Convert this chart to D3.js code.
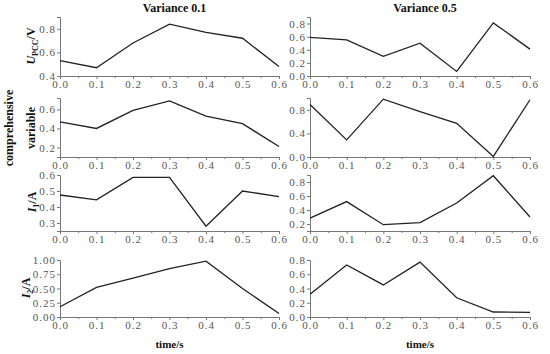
<!DOCTYPE html>
<html><head><meta charset="utf-8">
<script src="https://cdn.jsdelivr.net/npm/d3@7"></script>
<style>
body{margin:0;background:#fff;}
svg text{font-family:"Liberation Serif","DejaVu Serif",serif;}
.domain,.tick line{stroke:#777;}
</style></head>
<body><svg id="c" width="550" height="354"></svg>
<script>
const times = [0, 0.1, 0.2, 0.3, 0.4, 0.5, 0.6];
const xTicks = [0, 0.1, 0.2, 0.3, 0.4, 0.5, 0.6];
const columnTitles = ["Variance 0.1", "Variance 0.5"];
const upccVar01 = [0.53, 0.47, 0.68, 0.84, 0.77, 0.72, 0.48];
const upccVar05 = [0.59, 0.55, 0.30, 0.50, 0.07, 0.81, 0.41];
const compVar01 = [0.47, 0.40, 0.59, 0.69, 0.53, 0.45, 0.21];
const compVar05 = [0.89, 0.29, 0.98, 0.77, 0.57, 0.01, 0.97];
const i1Var01 = [0.475, 0.445, 0.585, 0.585, 0.28, 0.50, 0.465];
const i1Var05 = [0.285, 0.52, 0.19, 0.22, 0.50, 0.89, 0.30];
const i2Var01 = [0.18, 0.52, 0.68, 0.85, 0.98, 0.50, 0.06];
const i2Var05 = [0.32, 0.73, 0.45, 0.77, 0.27, 0.07, 0.065];
const yTicksUpcc01 = [0.4, 0.6, 0.8];
const yTicksUpcc05 = [0, 0.2, 0.4, 0.6, 0.8];
const yTicksComp01 = [0.2, 0.4, 0.6];
const yTicksComp05 = [0, 0.4, 0.8];
const yTicksI101 = [0.3, 0.4, 0.5, 0.6];
const yTicksI105 = [0.2, 0.4, 0.6, 0.8];
const yTicksI201 = [0, 0.25, 0.5, 0.75, 1];
const yTicksI205 = [0, 0.2, 0.4, 0.6, 0.8];

const svg = d3.select("#c");
const cols = [{x0:60,x1:279},{x0:310,x1:530}];
const rows = [{t:17,b:76},{t:98,b:157},{t:175,b:231},{t:260,b:317}];

const panels = [
 {r:0,c:0,vals:upccVar01,dom:[0.4,0.9],ticks:yTicksUpcc01,fmt:".1f"},
 {r:0,c:1,vals:upccVar05,dom:[0,0.9],ticks:yTicksUpcc05,fmt:".1f"},
 {r:1,c:0,vals:compVar01,dom:[0.1,0.72],ticks:yTicksComp01,fmt:".1f"},
 {r:1,c:1,vals:compVar05,dom:[0,1],ticks:yTicksComp05,fmt:".1f"},
 {r:2,c:0,vals:i1Var01,dom:[0.25,0.6],ticks:yTicksI101,fmt:".1f"},
 {r:2,c:1,vals:i1Var05,dom:[0.1,0.9],ticks:yTicksI105,fmt:".1f"},
 {r:3,c:0,vals:i2Var01,dom:[0,1],ticks:yTicksI201,fmt:".2f"},
 {r:3,c:1,vals:i2Var05,dom:[0,0.8],ticks:yTicksI205,fmt:".1f"}
];

function styleTicks(s){
  s.attr("font-family",null).attr("font-size",null);
  s.selectAll(".tick text")
    .attr("font-family","'Liberation Serif','DejaVu Serif',serif")
    .attr("font-size",11).attr("fill","#555").attr("letter-spacing",1);
}

panels.forEach(p=>{
  const col=cols[p.c], row=rows[p.r];
  const x=d3.scaleLinear().domain([0,0.6]).range([col.x0,col.x1]);
  const y=d3.scaleLinear().domain(p.dom).range([row.b,row.t]);
  const g=svg.append("g");
  g.append("g").attr("transform",`translate(0,${row.b})`)
    .call(d3.axisBottom(x).tickValues(d3.range(0.05,0.6,0.1)).tickSize(2).tickFormat(""))
    .call(s=>s.select(".domain").remove());
  g.append("g").attr("transform",`translate(0,${row.b})`)
    .call(d3.axisBottom(x).tickValues(xTicks).tickSize(3).tickPadding(1).tickFormat(d3.format(".1f")))
    .call(styleTicks);
  g.append("g").attr("transform",`translate(${col.x0},0)`)
    .call(d3.axisLeft(y).tickValues(p.ticks).tickSize(3).tickPadding(1).tickFormat(d3.format(p.fmt)))
    .call(styleTicks);
  g.append("path").datum(p.vals)
    .attr("fill","none").attr("stroke","#222").attr("stroke-width",1.3)
    .attr("d",d3.line().x((d,i)=>x(times[i])).y(d=>y(d)));
});

columnTitles.forEach((t,i)=>{
  const cx=(cols[i].x0+cols[i].x1)/2;
  svg.append("text").attr("x",cx+5).attr("y",12).attr("text-anchor","middle")
    .attr("font-size",12).attr("font-weight","bold").attr("fill","#111").text(t);
  svg.append("text").attr("x",cx).attr("y",348).attr("text-anchor","middle")
    .attr("font-size",11).attr("font-weight","bold").attr("fill","#111").text("time/s");
});

function ylab(x,y,build){
  const t=svg.append("text").attr("transform",`translate(${x},${y}) rotate(-90)`)
    .attr("text-anchor","middle").attr("font-size",12).attr("font-weight","bold").attr("fill","#111");
  build(t);
}
ylab(35,46,t=>{
  t.append("tspan").attr("font-style","italic").text("U");
  t.append("tspan").attr("font-size",8).attr("dy",3).text("PCC");
  t.append("tspan").attr("dy",-3).text("/V");
});
ylab(13,128,t=>t.text("comprehensive"));
ylab(35,128,t=>t.text("variable"));
ylab(36,202,t=>{
  t.append("tspan").attr("font-style","italic").text("I");
  t.append("tspan").attr("font-size",8).attr("dy",3).text("1");
  t.append("tspan").attr("dy",-3).text("/A");
});
ylab(30,288,t=>{
  t.append("tspan").attr("font-style","italic").text("I");
  t.append("tspan").attr("font-size",8).attr("dy",3).text("2");
  t.append("tspan").attr("dy",-3).text("/A");
});
</script></body></html>
